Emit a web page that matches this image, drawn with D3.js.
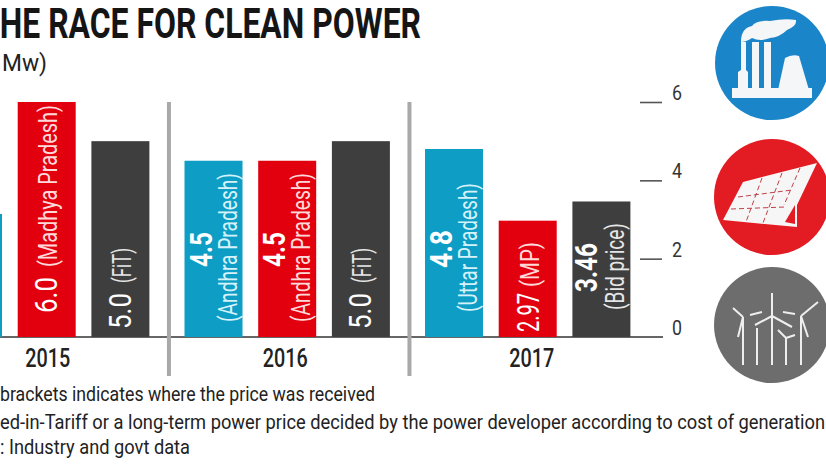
<!doctype html>
<html lang="en">
<head>
  <meta charset="utf-8">
  <script src="https://cdn.jsdelivr.net/npm/d3@7/dist/d3.min.js"></script>
  <title>The race for clean power</title>
  <style>
    html, body { margin: 0; padding: 0; background: #fff; overflow: hidden; }
    text { font-family: "Roboto", sans-serif; }
  </style>
</head>
<body>
  <svg id="chart" width="826" height="465"></svg>
  <script>
    const years = ['2015', '2016', '2017'];
    const kinds = ['a', 'b', 'c'];
    const solar = [3.14, 4.5, 4.8];
    const thermal = [6.0, 4.5, 2.97];
    const wind = [5.0, 5.0, 3.46];
    const valueLabels = [['', '6.0', '5.0'], ['4.5', '4.5', '5.0'], ['4.8', '2.97', '3.46']];
    const placeLabels = [['', '(Madhya Pradesh)', '(FiT)'], ['(Andhra Pradesh)', '(Andhra Pradesh)', '(FiT)'], ['(Uttar Pradesh)', '(MP)', '(Bid price)']];
    const yTicks = [0, 2, 4, 6];
    const colors = ['#0e9dc5', '#e2000f', '#3e3e3e'];
    const placeColors = ['#d5f2fa', '#ffd9d9', '#e6e6e6'];
    const notes = [
      'brackets indicates where the price was received',
      'ed-in-Tariff or a long-term power price decided by the power developer according to cost of generation',
      ': Industry and govt data'
    ];

    // label layout: [baseline from bar left, y start, length] for value, then place
    const labelBoxes = [
      [null, [[39, 313, 36], [39, 267, 162]], [[40, 329, 36], [40, 283, 35]]],
      [[[27, 267, 35], [52, 322, 149]], [[27, 267, 35], [52, 322, 149]], [[39, 329, 36], [39, 283, 35]]],
      [[[27, 268, 38], [52, 312, 129]], [[40, 332, 39], [40, 287, 45]], [[25, 292, 49], [52, 310, 87]]]
    ];

    const svg = d3.select('#chart');

    const x0 = d3.scaleBand().domain(years).range([-56, 630.4]).paddingInner(0.146);
    const x1 = d3.scaleBand().domain(kinds).range([0, x0.bandwidth()]).paddingInner(0.213);
    const y = d3.scaleLinear().domain([0, 6]).range([337, 102]);

    // squeeze a text to a given length, the system has no condensed face
    function fit(sel, len) {
      return sel.attr('textLength', len).attr('lengthAdjust', 'spacingAndGlyphs');
    }

    // title
    svg.append('text').attr('x', -20).attr('y', 38)
      .attr('font-size', 42).attr('font-weight', 700).attr('fill', '#151515')
      .text('THE RACE FOR CLEAN POWER').call(fit, 441);
    svg.append('text').attr('x', 2).attr('y', 71)
      .attr('font-size', 24).attr('fill', '#222')
      .text('Mw)').call(fit, 45);

    // baseline and y axis
    svg.append('line').attr('x1', 0).attr('x2', 663).attr('y1', y(0)).attr('y2', y(0))
      .attr('stroke', '#666').attr('stroke-width', 2);

    const axis = svg.append('g').attr('transform', 'translate(662,0)')
      .call(d3.axisLeft(y).tickValues(yTicks).tickSize(22).tickFormat(''));
    axis.select('.domain').remove();
    axis.selectAll('line').attr('stroke', '#555').attr('stroke-width', 1.6)
      .filter(d => d === 0).remove();
    svg.selectAll('.ylab').data(yTicks).enter().append('text')
      .attr('class', 'ylab')
      .attr('x', 672).attr('y', d => y(d) - 2)
      .attr('font-size', 21).attr('fill', '#333')
      .text(d => d).call(fit, 10);

    // bars
    const series = [solar, thermal, wind];
    const rows = [];
    years.forEach((yr, i) => kinds.forEach((k, j) => {
      rows.push({ yr, k, i, j, v: series[j][i], val: valueLabels[i][j], place: placeLabels[i][j], box: labelBoxes[i][j] });
    }));

    const g = svg.selectAll('.bar').data(rows).enter().append('g')
      .attr('class', 'bar')
      .attr('transform', d => `translate(${x0(d.yr) + x1(d.k)},0)`);

    g.append('rect')
      .attr('y', d => y(d.v))
      .attr('width', x1.bandwidth())
      .attr('height', d => y(0) - y(d.v))
      .attr('fill', d => colors[d.j]);

    // rotated bar labels
    const labelled = g.filter(d => d.box);
    labelled.append('text')
      .attr('transform', d => `translate(${d.box[0][0]},${d.box[0][1]}) rotate(-90)`)
      .attr('font-size', 31)
      .attr('font-weight', d => d.box[0][0] < 30 ? 700 : 400)
      .attr('fill', '#fff')
      .text(d => d.val)
      .each(function (d) { fit(d3.select(this), d.box[0][2]); });
    labelled.append('text')
      .attr('transform', d => `translate(${d.box[1][0]},${d.box[1][1]}) rotate(-90)`)
      .attr('font-size', 25)
      .attr('fill', d => placeColors[d.j])
      .text(d => d.place)
      .each(function (d) { fit(d3.select(this), d.box[1][2]); });

    // year labels and dividers
    const yearNudge = { 2015: 1, 2016: -2, 2017: 4 };
    svg.selectAll('.yr').data(years).enter().append('text')
      .attr('class', 'yr')
      .attr('x', d => x0(d) + x0.bandwidth() / 2 + yearNudge[d] - 22.5)
      .attr('y', 367)
      .attr('font-size', 26).attr('font-weight', 500).attr('fill', '#222')
      .text(d => d).call(fit, 45);

    svg.selectAll('.divider').data(years.slice(1)).enter().append('line')
      .attr('class', 'divider')
      .attr('x1', d => x0(d) - x0.step() * x0.paddingInner() / 2 + 2)
      .attr('x2', d => x0(d) - x0.step() * x0.paddingInner() / 2 + 2)
      .attr('y1', 102).attr('y2', 376)
      .attr('stroke', '#a9a9a9').attr('stroke-width', 4);

    // footnotes
    const noteY = [401, 429, 454];
    const noteLen = [375, 825, 190];
    svg.selectAll('.note').data(notes).enter().append('text')
      .attr('class', 'note')
      .attr('x', 0).attr('y', (d, i) => noteY[i])
      .attr('font-size', 20).attr('fill', '#222')
      .text(d => d)
      .each(function (d, i) { fit(d3.select(this), noteLen[i]); });

    // icons
    const icons = svg.append('g');
    icons.append('circle').attr('cx', 772).attr('cy', 63).attr('r', 57).attr('fill', '#1a86c9');
    icons.append('circle').attr('cx', 772).attr('cy', 197).attr('r', 58).attr('fill', '#e31b23');
    icons.append('circle').attr('cx', 772).attr('cy', 325).attr('r', 58).attr('fill', '#6d6d6d');

    const factory = icons.append('g').attr('fill', '#f4f6f8');
    factory.append('rect').attr('x', 732).attr('y', 88).attr('width', 80).attr('height', 10);
    factory.append('path').attr('d', 'M778 90 L785 58 Q792 54 799 56 L809 90 Z');
    factory.append('path').attr('d', 'M738 90 V72 L741 70 V42 H746 V70 L748 72 V90 Z');
    factory.append('path').attr('d', 'M752 90 V42 H759 V90 Z');
    factory.append('path').attr('d', 'M764 90 V42 H771 V90 Z');
    factory.append('path').attr('d', 'M741 42 Q741 28 752 26 Q756 20 770 21 Q785 18 796 20 Q797 26 787 30 Q780 37 770 38 Q760 42 752 38 Q746 42 741 42 Z');

    const panel = icons.append('g');
    panel.append('path').attr('fill', '#f6f6f6').attr('d', 'M743 182 L817 163 L797 205 L797 227 L723 220 Z');
    panel.append('path').attr('fill', '#e31b23').attr('d', 'M785 222 L795 205 L795 224 Z');
    panel.append('path').attr('fill', 'none').attr('stroke', '#c04048').attr('stroke-width', 1).attr('stroke-dasharray', '5 3')
      .attr('d', 'M738 197 L792 190 M731 209 L785 207 M762 178 L746 222 M782 173 L763 223 M800 168 L784 205');

    const turbines = icons.append('g').attr('stroke', '#eee').attr('fill', 'none').attr('stroke-width', 2);
    [
      'M743 365 V317 M743 317 L733 308 M743 317 L738 337 M750 315 L762 312',
      'M757 365 V328',
      'M772 365 V293 M772 316 L755 325 M772 316 L792 327',
      'M786 365 V338 M786 338 L778 330 M786 338 L795 335',
      'M801 365 V316 M801 316 L818 302 M801 316 L808 337 M795 314 L783 312'
    ].forEach(dd => turbines.append('path').attr('d', dd));
  </script>
</body>
</html>
